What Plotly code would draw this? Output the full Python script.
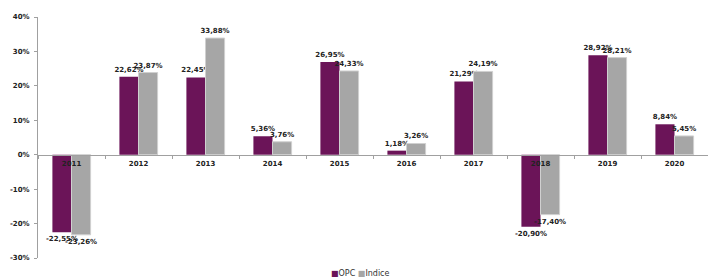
import plotly.graph_objects as go

years = ["2011", "2012", "2013", "2014", "2015", "2016", "2017", "2018", "2019", "2020"]
opc = [-22.55, 22.62, 22.45, 5.36, 26.95, 1.18, 21.29, -20.90, 28.92, 8.84]
indice = [-23.26, 23.87, 33.88, 3.76, 24.33, 3.26, 24.19, -17.40, 28.21, 5.45]
y_ticks = [-30, -20, -10, 0, 10, 20, 30, 40]
y_tick_labels = ["-30%", "-20%", "-10%", "0%", "10%", "20%", "30%", "40%"]
series_names = ["OPC", "Indice"]
series_colors = ["#6B1458", "#A6A6A6"]

def fmt(v):
    return f"{v:.2f}".replace(".", ",") + "%"

FONT = "DejaVu Sans"
fig = go.Figure()
fig.add_trace(go.Bar(
    x=years, y=opc, name=series_names[0],
    marker=dict(color=series_colors[0], line=dict(width=0)),
    text=[fmt(v) for v in opc], textposition="outside", cliponaxis=False,
    constraintext="none",
    textfont=dict(family=FONT, size=7, color="#222222", weight="bold"),
))
fig.add_trace(go.Bar(
    x=years, y=indice, name=series_names[1],
    marker=dict(color=series_colors[1], line=dict(width=1, color="#D0D0D0")),
    text=[fmt(v) for v in indice], textposition="outside", cliponaxis=False,
    constraintext="none",
    textfont=dict(family=FONT, size=7, color="#222222", weight="bold"),
))

legend_text = " ".join(
    f"<span style='color:{c}'>■</span>{n}" for n, c in zip(series_names, series_colors)
)

ymin, ymax = -30, 40
fig.update_layout(
    width=708, height=278,
    margin=dict(l=38, r=0, t=17, b=20, autoexpand=False),
    plot_bgcolor="white", paper_bgcolor="white",
    barmode="group", bargap=0.43, bargroupgap=0,
    font=dict(family=FONT, size=7, color="#222222"),
    showlegend=False,
    annotations=[dict(
        text=legend_text, xref="paper", yref="paper", x=(360 - 38) / 670, y=-15 / 241,
        xanchor="center", yanchor="middle", showarrow=False,
        font=dict(family=FONT, size=8, color="#333333"),
    )],
    xaxis=dict(
        type="category", range=[-0.5, 9.5],
        anchor="free", position=(0 - ymin) / (ymax - ymin),
        showline=True, linecolor="#A0A0A0", linewidth=1,
        ticks="outside", ticklen=3, tickcolor="#A0A0A0", tickson="boundaries",
        ticklabelstandoff=2,
        tickfont=dict(family=FONT, size=7, color="#222222", weight="bold"),
        showgrid=False, zeroline=False,
    ),
    yaxis=dict(
        range=[ymin, ymax], tickvals=y_ticks, ticktext=y_tick_labels,
        showline=True, linecolor="#A0A0A0", linewidth=1,
        ticks="outside", ticklen=3, tickcolor="#A0A0A0",
        ticklabelstandoff=3,
        tickfont=dict(family=FONT, size=7, color="#222222", weight="bold"),
        showgrid=False, zeroline=False,
    ),
)
fig.write_html("out.html", config={"displayModeBar": False},
               post_script="document.body.style.margin='0';document.body.style.overflow='hidden';")
